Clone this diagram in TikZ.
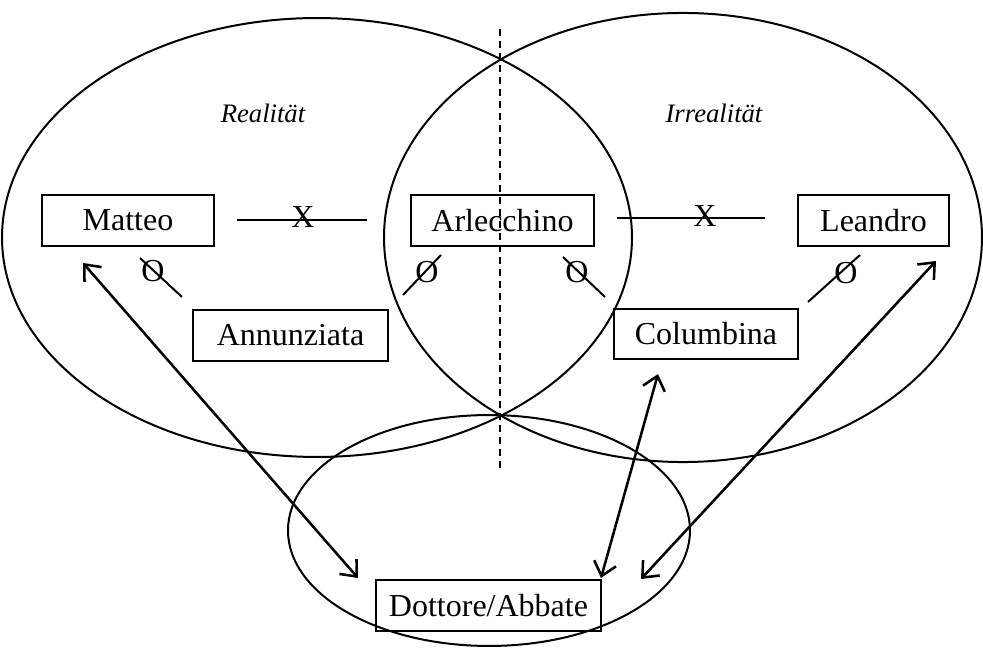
\documentclass[tikz,border=0pt]{standalone}
\usepackage{fontspec}
\setmainfont{Liberation Serif}
\usetikzlibrary{arrows.meta}
\begin{document}
\begin{tikzpicture}[x=0.75pt,y=-0.75pt,
  outline/.style={line width=1.5pt},
  box/.style={draw, line width=1.4pt, inner sep=0pt, minimum height=38pt, font=\fontsize{24}{28}\selectfont},
  region/.style={font=\fontsize{20}{24}\selectfont\itshape},
  sym/.style={inner sep=0pt, font=\fontsize{24}{28}\selectfont},
  rel/.style={line width=1.5pt},
  dbl/.style={line width=1.9pt, {Straight Barb[length=10pt,width=17pt]}-{Straight Barb[length=10pt,width=17pt]}}]
\useasboundingbox (0,0) rectangle (983,648);
% ellipses
\draw[outline] (317,237.5) ellipse [x radius=236.25pt, y radius=164.6pt];
\draw[outline] (683,237.5) ellipse [x radius=224.25pt, y radius=168.4pt];
\draw[outline] (489,530.5) ellipse [x radius=150.75pt, y radius=86.6pt];
% dashed divider
\coordinate (dtop) at (500,29);
\coordinate (dbot) at (500,470);
\draw[line width=1.2pt, dash pattern=on 5pt off 4pt] (dtop) -- (dbot);
% region labels
\node[region] (real) at (263,113) {Realität};
\node[region] (irreal) at (714,113) {Irrealität};
% boxes
\node[box, minimum width=129pt] (matteo) at (128,220.5) {Matteo};
\node[box, minimum width=137pt] (arle) at (502.5,220.5) {Arlecchino};
\node[box, minimum width=113pt] (leandro) at (873.5,220.5) {Leandro};
\node[box, minimum width=146pt] (annu) at (290.5,335.5) {Annunziata};
\node[box, minimum width=138pt] (colu) at (706,334) {Columbina};
\node[box, minimum width=169pt] (dott) at (488.5,605.5) {Dottore/Abbate};
% X relations
\coordinate (x1a) at (237,220); \coordinate (x1b) at (367,220);
\draw[rel] (x1a) -- (x1b);
\node[sym] (x1) at (303,217) {X};
\coordinate (x2a) at (617,218); \coordinate (x2b) at (765,218);
\draw[rel] (x2a) -- (x2b);
\node[sym] (x2) at (705,216) {X};
% slashed O relations
\node[sym] (o1) at (153,271) {O};
\coordinate (o1a) at (140,258); \coordinate (o1b) at (182,297);
\draw[rel] (o1a) -- (o1b);
\node[sym] (o2) at (427,272) {O};
\coordinate (o2a) at (403,295); \coordinate (o2b) at (441,255);
\draw[rel] (o2a) -- (o2b);
\node[sym] (o3) at (577,272) {O};
\coordinate (o3a) at (563,257); \coordinate (o3b) at (605,297);
\draw[rel] (o3a) -- (o3b);
\node[sym] (o4) at (846,273) {O};
\coordinate (o4a) at (808,302); \coordinate (o4b) at (860,255);
\draw[rel] (o4a) -- (o4b);
% double arrows
\coordinate (a1s) at (83,263); \coordinate (a1e) at (358,578);
\draw[dbl] (a1s) -- (a1e);
\coordinate (a2s) at (658,374); \coordinate (a2e) at (601,578);
\draw[dbl] (a2s) -- (a2e);
\coordinate (a3s) at (936,261); \coordinate (a3e) at (641,579);
\draw[dbl] (a3s) -- (a3e);
\end{tikzpicture}
\end{document}
